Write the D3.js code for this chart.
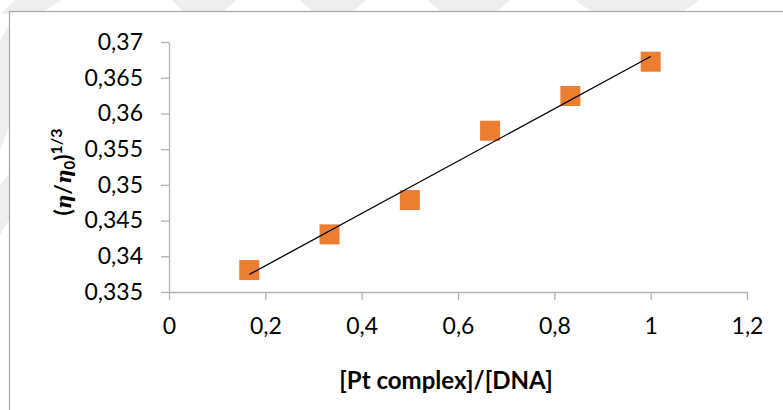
<!DOCTYPE html>
<html>
<head>
<meta charset="utf-8">
<script src="https://cdn.jsdelivr.net/npm/d3@7/dist/d3.min.js"></script>
<style>
  html, body { margin: 0; padding: 0; background: #ffffff; }
  svg { display: block; }
  .tick text { font-family: Lato, "Open Sans", sans-serif; fill: #000; }
</style>
</head>
<body>
<svg id="chart" width="783" height="410"></svg>
<script>
// Viscosity measurements: relative viscosity^(1/3) against [Pt complex]/[DNA]
const ratios = [1 / 6, 2 / 6, 3 / 6, 4 / 6, 5 / 6, 1];
const viscosity = [0.33807, 0.34307, 0.34787, 0.35758, 0.36244, 0.36724];

const xTickValues = [0, 0.2, 0.4, 0.6, 0.8, 1, 1.2];
const xTickLabels = ["0", "0,2", "0,4", "0,6", "0,8", "1", "1,2"];
const yTickValues = [0.335, 0.34, 0.345, 0.35, 0.355, 0.36, 0.365, 0.37];
const yTickLabels = ["0,335", "0,34", "0,345", "0,35", "0,355", "0,36", "0,365", "0,37"];

const W = 783, H = 410;
const svg = d3.select("#chart");

// faint background stripes of the page
const stripes = [
  [[15, 0], [62, 0], [40, 14], [0, 14]],
  [[172, 0], [236, 0], [220, 14], [185, 14]],
  [[300, 0], [366, 0], [350, 14], [316, 14]],
  [[428, 0], [510, 0], [494, 14], [444, 14]],
  [[575, 0], [700, 0], [680, 14], [595, 14]],
  [[0, 40], [12, 20], [12, 120], [0, 150]],
  [[0, 185], [12, 170], [12, 215], [0, 235]]
];
svg.selectAll("polygon.stripe").data(stripes).join("polygon")
  .attr("class", "stripe")
  .attr("points", d => d.map(p => p.join(",")).join(" "))
  .attr("fill", "#eeeeee");

// chart area frame (runs past the right and bottom edges)
svg.append("rect")
  .attr("x", 9.5).attr("y", 11.5)
  .attr("width", 900).attr("height", 500)
  .attr("fill", "#ffffff")
  .attr("stroke", "#a6a6a6")
  .attr("stroke-width", 1.2);

const x = d3.scaleLinear().domain([0, 1.2]).range([169, 747]);
const y = d3.scaleLinear().domain([0.335, 0.37]).range([292, 42]);

const axisColor = "#b3b3b3";
const tickFont = 23;

const xAxis = d3.axisBottom(x)
  .tickValues(xTickValues)
  .tickFormat((d, i) => xTickLabels[i])
  .tickSizeInner(8).tickSizeOuter(0).tickPadding(18);
const gx = svg.append("g").attr("transform", `translate(0,${y(0.335)})`).call(xAxis);

const yAxis = d3.axisLeft(y)
  .tickValues(yTickValues)
  .tickFormat((d, i) => yTickLabels[i])
  .tickSizeInner(8).tickSizeOuter(0).tickPadding(18);
const gy = svg.append("g").attr("transform", `translate(${x(0)},0)`).call(yAxis);

[gx, gy].forEach(g => {
  g.select(".domain").attr("stroke", axisColor).attr("stroke-width", 1.3);
  g.selectAll(".tick line").attr("stroke", axisColor).attr("stroke-width", 1.3);
  g.selectAll(".tick text").attr("font-size", tickFont);
});

// data markers
const pts = ratios.map((r, i) => [r, viscosity[i]]);
const ms = 20;
svg.append("g").selectAll("rect").data(pts).join("rect")
  .attr("x", d => x(d[0]) - ms / 2)
  .attr("y", d => y(d[1]) - ms / 2)
  .attr("width", ms).attr("height", ms)
  .attr("fill", "#ED7D31");

// least-squares trend line over the measured range
const mx = d3.mean(ratios), my = d3.mean(viscosity);
const sxy = d3.sum(ratios, (r, i) => (r - mx) * (viscosity[i] - my));
const sxx = d3.sum(ratios, r => (r - mx) * (r - mx));
const slope = sxy / sxx, icpt = my - slope * mx;
const xr = d3.extent(ratios);
svg.append("line")
  .attr("x1", x(xr[0])).attr("y1", y(icpt + slope * xr[0]))
  .attr("x2", x(xr[1])).attr("y2", y(icpt + slope * xr[1]))
  .attr("stroke", "#000").attr("stroke-width", 1.3);

// axis titles
svg.append("text")
  .attr("x", 446).attr("y", 389)
  .attr("text-anchor", "middle")
  .attr("font-family", "Lato, 'Open Sans', sans-serif")
  .attr("font-weight", "bold")
  .attr("font-size", 24)
  .text("[Pt complex]/[DNA]");

const yt = svg.append("text")
  .attr("transform", "translate(71,172) rotate(-90)")
  .attr("text-anchor", "middle")
  .attr("font-family", "Lato, 'Open Sans', sans-serif")
  .attr("font-weight", "bold")
  .attr("font-size", 23);
yt.append("tspan").text("(");
yt.append("tspan").attr("font-style", "italic").attr("font-family", "'DejaVu Serif', serif").attr("font-size", 20).text("η");
yt.append("tspan").text("/");
yt.append("tspan").attr("font-style", "italic").attr("font-family", "'DejaVu Serif', serif").attr("font-size", 20).text("η");
yt.append("tspan").attr("font-size", 15).attr("dy", 4).text("0");
yt.append("tspan").attr("dy", -4).text(")");
yt.append("tspan").attr("font-size", 16).attr("dy", -9).text("1/3");
</script>
</body>
</html>
